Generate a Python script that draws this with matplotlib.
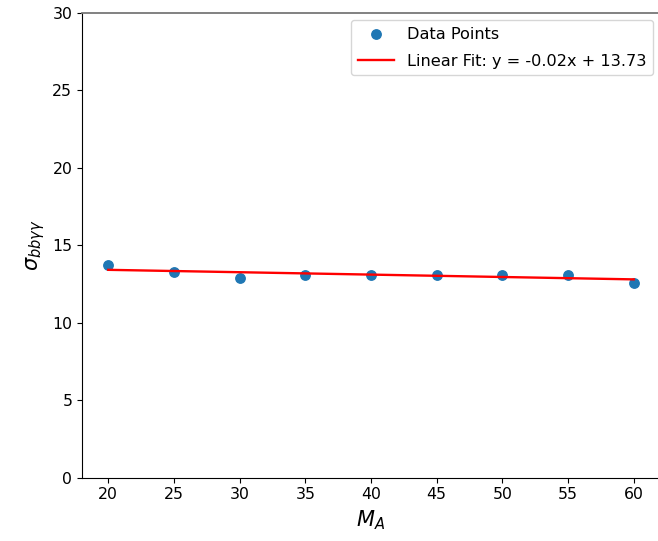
import numpy as np
import matplotlib
matplotlib.use("Agg")
import matplotlib.pyplot as plt

# mass points and cross sections
m_a = [20, 25, 30, 35, 40, 45, 50, 55, 60]
sigma = [13.72, 13.28, 12.9, 13.1, 13.1, 13.1, 13.1, 13.1, 12.6]

slope, intercept = np.polyfit(m_a, sigma, 1)
fit_x = np.array(m_a)
fit_y = slope * fit_x + intercept

plt.rcParams["font.size"] = 11.3

fig = plt.figure(figsize=(6.58, 5.41), dpi=100)
ax = fig.add_axes([0.1246, 0.117, 0.8784, 0.859])

ax.scatter(m_a, sigma, s=46, color="#1f77b4", label="Data Points", zorder=2)
ax.plot(fit_x, fit_y, color="red", linewidth=1.7,
        label=f"Linear Fit: y = {slope:.2f}x + {intercept:.2f}")

ax.set_ylim(0, 30)
ax.set_xticks(m_a)
ax.set_xlabel(r"$M_A$", fontsize=15)
ax.set_ylabel(r"$\sigma_{bb\gamma\gamma}$", fontsize=15)
ax.spines["top"].set_color("#777777")
ax.spines["top"].set_linewidth(1.3)
ax.legend(loc="upper right", fontsize=11.6, labelspacing=0.75,
          handlelength=2.25, borderaxespad=0.45)

fig.savefig("out.png", dpi=100)
